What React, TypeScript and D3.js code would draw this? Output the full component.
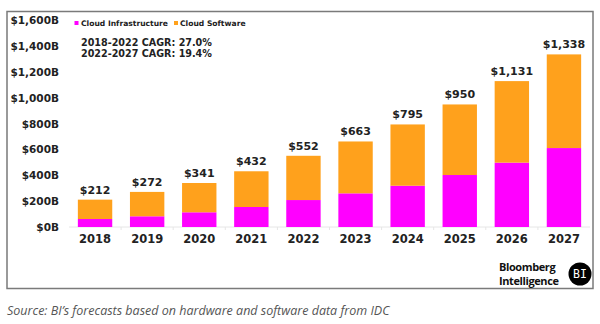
import React from "react";
import * as d3 from "d3";

const years = ["2018", "2019", "2020", "2021", "2022", "2023", "2024", "2025", "2026", "2027"];
const totals = [212, 272, 341, 432, 552, 663, 795, 950, 1131, 1338];
const infrastructure = [62, 83, 114, 155, 209, 261, 320, 403, 499, 612];
const software = totals.map((t, i) => t - infrastructure[i]);
const yTicks = [0, 200, 400, 600, 800, 1000, 1200, 1400, 1600];
const seriesNames = ["Cloud Infrastructure", "Cloud Software"];
const cagrLines = ["2018-2022 CAGR: 27.0%", "2022-2027 CAGR: 19.4%"];

const MAGENTA = "#FF00FF";
const ORANGE = "#FFA11C";
const TXT = "#222";
const FONT = "'DejaVu Sans', Verdana, sans-serif";

export default function App() {
  const W = 600, H = 324;
  const x = d3.scaleBand().domain(years).range([69, 590]).paddingInner(0.34).paddingOuter(0.17);
  const y = d3.scaleLinear().domain([0, 1600]).range([227, 20.6]);
  const fmt = d3.format(",");
  const stackData = years.map((yr, i) => ({ year: yr, infra: infrastructure[i], soft: software[i] }));
  const stack = d3.stack<any>().keys(["infra", "soft"])(stackData);
  const colors = [MAGENTA, ORANGE];

  return (
    <svg width={W} height={H} style={{ position: "absolute", left: 0, top: 0, background: "#fff" }} fontFamily={FONT}>
      <rect x={7} y={11.5} width={586} height={277} fill="#fff" stroke="#7a7a7a" strokeWidth={1.5} />
      {/* y axis labels */}
      {yTicks.map((t) => (
        <text key={t} x={59} y={y(t)} dy="0.36em" textAnchor="end" fontSize={10.5} fontWeight="bold" fill={TXT}>
          ${fmt(t)}B
        </text>
      ))}
      {/* baseline */}
      <line x1={69} x2={590} y1={y(0)} y2={y(0)} stroke="#e6e6e6" strokeWidth={1} />
      {years.slice(0, -1).map((yr) => (
        <line key={yr} x1={(x(yr) as number) + x.bandwidth() + x.step() * 0.17} x2={(x(yr) as number) + x.bandwidth() + x.step() * 0.17} y1={y(0)} y2={y(0) + 3} stroke="#e6e6e6" />
      ))}
      {/* bars */}
      {stack.map((s, si) =>
        s.map((d, i) => (
          <rect key={si + "-" + i} x={x(years[i])} width={x.bandwidth()} y={y(d[1])} height={y(d[0]) - y(d[1])} fill={colors[si]} />
        ))
      )}
      {/* value labels */}
      {years.map((yr, i) => (
        <text key={yr} x={(x(yr) as number) + x.bandwidth() / 2} y={y(totals[i]) - 6} textAnchor="middle" fontSize={11} fontWeight="bold" fill={TXT}>
          ${fmt(totals[i])}
        </text>
      ))}
      {/* x labels */}
      {years.map((yr) => (
        <text key={yr} x={(x(yr) as number) + x.bandwidth() / 2} y={239} dy="0.36em" textAnchor="middle" fontSize={11.5} fontWeight="bold" fill={TXT}>
          {yr}
        </text>
      ))}
      {/* legend */}
      <rect x={74.5} y={21} width={4} height={4} fill={MAGENTA} />
      <text x={81} y={23} dy="0.35em" fontSize={7.6} fontWeight="bold" fill={TXT}>{seriesNames[0]}</text>
      <rect x={174} y={21} width={4} height={4} fill={ORANGE} />
      <text x={180} y={23} dy="0.35em" fontSize={7.6} fontWeight="bold" fill={TXT}>{seriesNames[1]}</text>
      {cagrLines.map((l, i) => (
        <text key={l} x={81} y={43 + i * 10.5} dy="0.35em" fontSize={9.6} fontWeight="bold" fill={TXT}>{l}</text>
      ))}
      {/* logo */}
      <text x={499} y={271} fontFamily="'Open Sans', sans-serif" fontWeight="bold" fontSize={11} fill="#111" letterSpacing={-0.4}>Bloomberg</text>
      <text x={499} y={284.5} fontFamily="'Open Sans', sans-serif" fontWeight="bold" fontSize={11} fill="#111" letterSpacing={-0.4}>Intelligence</text>
      <circle cx={580} cy={274} r={11.5} fill="#000" />
      <text x={580} y={274} dy="0.36em" textAnchor="middle" fontFamily="'DejaVu Sans Mono', monospace" fontSize={11.5} fill="#fff">BI</text>
      {/* source */}
      <text x={7} y={311} dy="0.35em" fontFamily="'Open Sans', sans-serif" fontStyle="italic" fontSize={12.5} fill="#555">
        Source: BI’s forecasts based on hardware and software data from IDC
      </text>
    </svg>
  );
}
